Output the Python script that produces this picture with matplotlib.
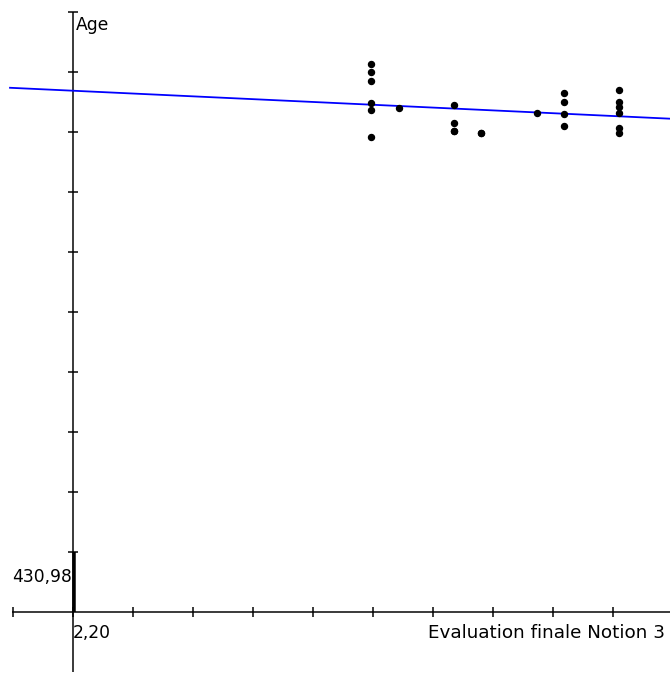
import numpy as np
import matplotlib
matplotlib.use("Agg")
import matplotlib.pyplot as plt

# ---- data ----
x_label = "Evaluation finale Notion 3"
y_label = "Age"
x_origin = 2.20
y_origin = 430.98
x_origin_label = "2,20"
y_origin_label = "430,98"

# (some students share identical values; their dots overlap)
eval_scores = [13, 13, 13, 13, 13, 13,
               14,
               16, 16, 16, 16,
               17, 17,
               19,
               20, 20, 20, 20,
               22, 22, 22, 22, 22, 22]
ages = [522.3, 521.0, 519.5, 515.8, 514.6, 510.1,
        515.0,
        515.5, 512.5, 511.1, 511.1,
        510.8, 510.8,
        514.1,
        517.5, 516.0, 514.0, 512.0,
        518.0, 516.0, 515.1, 514.1, 511.6, 510.8]

# ---- layout (pixel scale of the graph) ----
W, H = 670, 673
DPI = 100
ox_px, oy_px = 73, 612          # origin pixel position
kx = 27.6                        # px per x unit
ky = 6.0                         # px per y unit
tick_px = 60

fig = plt.figure(figsize=(W / DPI, H / DPI), dpi=DPI)
ax = fig.add_axes([0, 0, 1, 1])
ax.set_axis_off()
xlim = (x_origin - ox_px / kx, x_origin + (W - ox_px) / kx)
ylim = (y_origin - (H - oy_px) / ky, y_origin + oy_px / ky)
ax.set_xlim(*xlim)
ax.set_ylim(*ylim)

px2pt = 72 / DPI
black = "#000000"

# axes lines
ax.plot([x_origin - 61 / kx, xlim[1]], [y_origin, y_origin], color=black,
        lw=1.5 * px2pt, solid_capstyle="butt", zorder=2)
ax.plot([x_origin, x_origin], [y_origin - 60 / ky, y_origin + 600 / ky], color=black,
        lw=1.5 * px2pt, solid_capstyle="butt", zorder=2)
# bold segment near origin
ax.plot([x_origin + 1 / kx, x_origin + 1 / kx], [y_origin, y_origin + 60 / ky], color=black,
        lw=3.5 * px2pt, solid_capstyle="butt", zorder=2)

# x ticks
for n in range(-1, 10):
    xv = x_origin + n * tick_px / kx
    ax.plot([xv, xv], [y_origin - 5 / ky, y_origin + 5 / ky], color=black,
            lw=1.5 * px2pt, solid_capstyle="butt", zorder=2)
# y ticks
for n in range(1, 11):
    yv = y_origin + n * tick_px / ky
    ax.plot([x_origin - 5 / kx, x_origin + 5 / kx], [yv, yv], color=black,
            lw=1.5 * px2pt, solid_capstyle="butt", zorder=2)

# regression line
xs = np.array(eval_scores, dtype=float)
ys = np.array(ages, dtype=float)
slope, intercept = np.polyfit(xs, ys, 1)
lx = np.array([xlim[0] + 10 / kx, xlim[1]])
ax.plot(lx, slope * lx + intercept, color="#0000ff", lw=1.8 * px2pt, zorder=3)

# points
ax.plot(xs, ys, linestyle="none", marker="o", ms=6.0 * px2pt, color=black,
        mec=black, zorder=4)

# labels
font = dict(family="DejaVu Sans", color=black)
ax.annotate(y_label, (x_origin, y_origin + 600 / ky), xytext=(3 * px2pt, -13 * px2pt),
            textcoords="offset points", ha="left", va="center", fontsize=12.3, **font)
ax.annotate(x_label, (xlim[1], y_origin), xytext=(-5 * px2pt, -21 * px2pt),
            textcoords="offset points", ha="right", va="center", fontsize=13.2, **font)
ax.annotate(y_origin_label, (x_origin, y_origin), xytext=(-1 * px2pt, 35 * px2pt),
            textcoords="offset points", ha="right", va="center", fontsize=12.3, **font)
ax.annotate(x_origin_label, (x_origin, y_origin), xytext=(0, -21 * px2pt),
            textcoords="offset points", ha="left", va="center", fontsize=12.3, **font)

fig.savefig("out.png", dpi=DPI, facecolor="white")
